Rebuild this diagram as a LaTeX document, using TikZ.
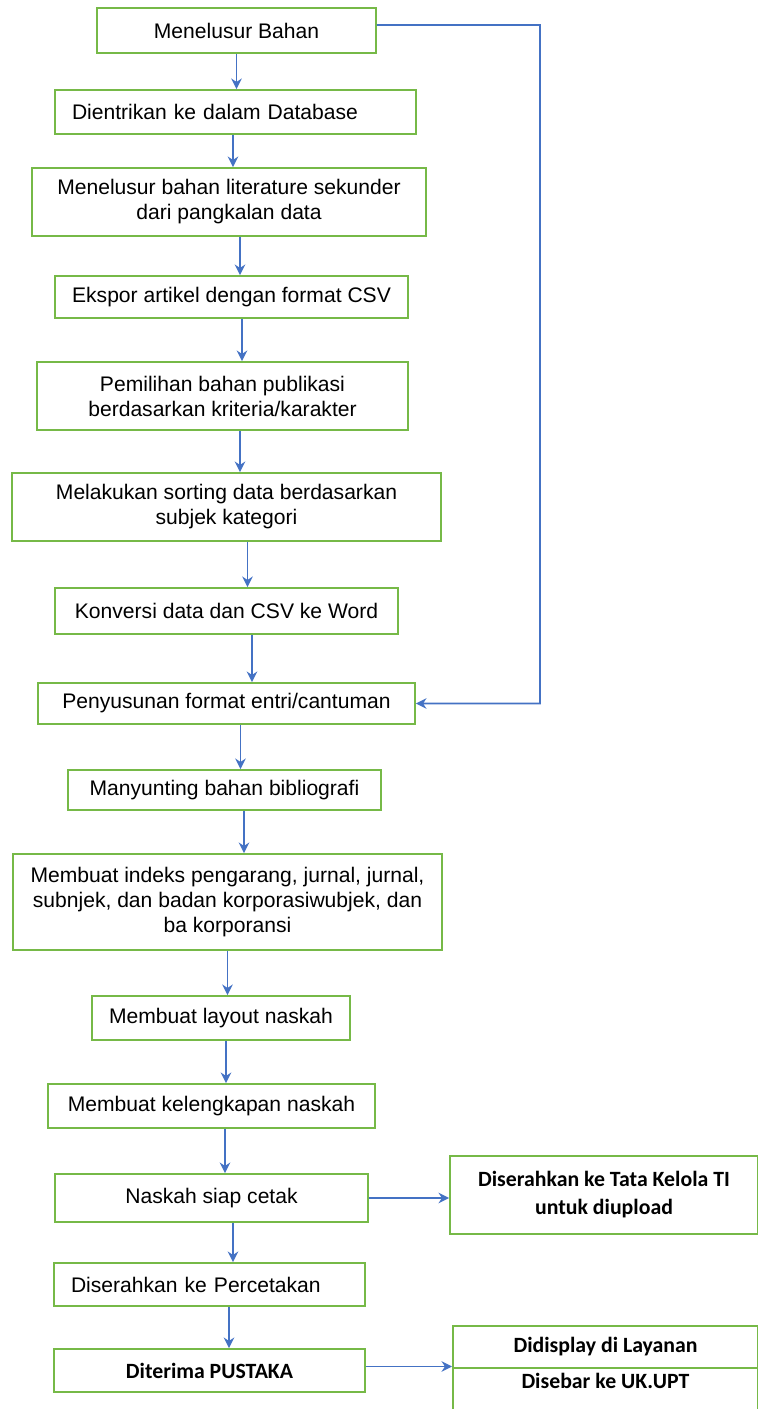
\documentclass[tikz,border=0pt]{standalone}
\usepackage{fontspec}
\setmainfont{Liberation Sans}
\newfontfamily\calfont{Carlito}
\usetikzlibrary{arrows.meta}
\definecolor{boxgreen}{RGB}{118,185,71}
\definecolor{flowblue}{RGB}{68,114,196}
\begin{document}
\begin{tikzpicture}[
    stepbox/.style={draw=boxgreen, line width=1.1pt, inner sep=0pt, align=center, font=\fontsize{12}{14.2}\selectfont},
    sidebox/.style={draw=boxgreen, line width=1.1pt, inner sep=0pt, align=center, font=\calfont\bfseries\fontsize{12.4}{15.9}\selectfont},
    flow/.style={draw=flowblue, line width=0.9pt, -{Stealth[length=6pt,width=6pt]}},
  ]
    \useasboundingbox (0,0) rectangle (15.16,-28.18);

    % Alur utama
    \node[stepbox, minimum width=5.58cm, minimum height=0.90cm] (b1) at (4.73,-0.61) {Menelusur Bahan};
    \node[stepbox, minimum width=7.22cm, minimum height=0.88cm, text width=6.54cm, align=left] (b2) at (4.71,-2.24) {Dientrikan ke dalam Database};
    \node[stepbox, minimum width=7.88cm, minimum height=1.36cm] (b3) at (4.58,-4.04) {Menelusur bahan literature sekunder\\dari pangkalan data};
    \node[stepbox, minimum width=7.06cm, minimum height=0.84cm] (b4) at (4.63,-5.94) {Ekspor artikel dengan format CSV};
    \node[stepbox, minimum width=7.42cm, minimum height=1.36cm] (b5) at (4.45,-7.92) {Pemilihan bahan publikasi\\berdasarkan kriteria/karakter};
    \node[stepbox, minimum width=8.58cm, minimum height=1.36cm] (b6) at (4.53,-10.14) {Melakukan sorting data berdasarkan\\subjek kategori};
    \node[stepbox, minimum width=6.86cm, minimum height=0.92cm] (b7) at (4.53,-12.22) {Konversi data dan CSV ke Word};
    \node[stepbox, minimum width=7.54cm, minimum height=0.82cm] (b8) at (4.53,-14.07) {Penyusunan format entri/cantuman};
    \node[stepbox, minimum width=6.26cm, minimum height=0.80cm] (b9) at (4.49,-15.80) {Manyunting bahan bibliografi};
    \node[stepbox, minimum width=8.58cm, minimum height=1.92cm] (b10) at (4.55,-18.04) {Membuat indeks pengarang, jurnal, jurnal,\\subnjek, dan badan korporasiwubjek, dan\\ba korporansi};
    \node[stepbox, minimum width=5.16cm, minimum height=0.88cm] (b11) at (4.42,-20.36) {Membuat layout naskah};
    \node[stepbox, minimum width=6.54cm, minimum height=0.88cm] (b12) at (4.23,-22.12) {Membuat kelengkapan naskah};
    \node[stepbox, minimum width=6.26cm, minimum height=0.96cm] (b13) at (4.23,-23.96) {Naskah siap cetak};
    \node[stepbox, minimum width=6.22cm, minimum height=0.86cm, text width=5.54cm, align=left] (b14) at (4.19,-25.69) {Diserahkan ke Percetakan};
    \node[sidebox, minimum width=6.22cm, minimum height=0.86cm] (b15) at (4.19,-27.41) {Diterima PUSTAKA};

    % Kotak samping
    \node[sidebox, minimum width=6.16cm, minimum height=1.56cm] (ti) at (12.08,-23.90) {Diserahkan ke Tata Kelola TI\\untuk diupload};
    \node[sidebox, minimum width=6.10cm, minimum height=0.84cm] (layanan) at (12.11,-26.94) {Didisplay di Layanan};
    \node[sidebox, minimum width=6.10cm, minimum height=0.88cm, text depth=0.36cm] (upt) at (12.11,-27.80) {Disebar ke UK.UPT};

    % Panah ke bawah
    \draw[flow] (b1.south) coordinate (a1) -- (a1 |- b2.north);
    \draw[flow] ([xshift=-0.05cm]b2.south) coordinate (a2) -- (a2 |- b3.north);
    \draw[flow] ([xshift=0.22cm]b3.south) coordinate (a3) -- (a3 |- b4.north);
    \draw[flow] ([xshift=0.21cm]b4.south) coordinate (a4) -- (a4 |- b5.north);
    \draw[flow] ([xshift=0.35cm]b5.south) coordinate (a5) -- (a5 |- b6.north);
    \draw[flow] ([xshift=0.42cm]b6.south) coordinate (a6) -- (a6 |- b7.north);
    \draw[flow] ([xshift=0.51cm]b7.south) coordinate (a7) -- (a7 |- b8.north);
    \draw[flow] ([xshift=0.28cm]b8.south) coordinate (a8) -- (a8 |- b9.north);
    \draw[flow] ([xshift=0.39cm]b9.south) coordinate (a9) -- (a9 |- b10.north);
    \draw[flow] (b10.south) coordinate (a10) -- (a10 |- b11.north);
    \draw[flow] ([xshift=0.10cm]b11.south) coordinate (a11) -- (a11 |- b12.north);
    \draw[flow] ([xshift=0.27cm]b12.south) coordinate (a12) -- (a12 |- b13.north);
    \draw[flow] ([xshift=0.43cm]b13.south) coordinate (a13) -- (a13 |- b14.north);
    \draw[flow] ([xshift=0.39cm]b14.south) coordinate (a14) -- (a14 |- b15.north);

    % Panah ke samping
    \draw[flow] (b13.east) -- (b13.east -| ti.west);
    \draw[flow] ([yshift=0.08cm]b15.east) coordinate (s15) -- (s15 -| layanan.west);

    % Jalur balik
    \coordinate (fb) at (10.80,-0.50);
    \draw[flow] ([yshift=0.11cm]b1.east) -- (fb) |- (b8.east);
  \end{tikzpicture}
\end{document}
